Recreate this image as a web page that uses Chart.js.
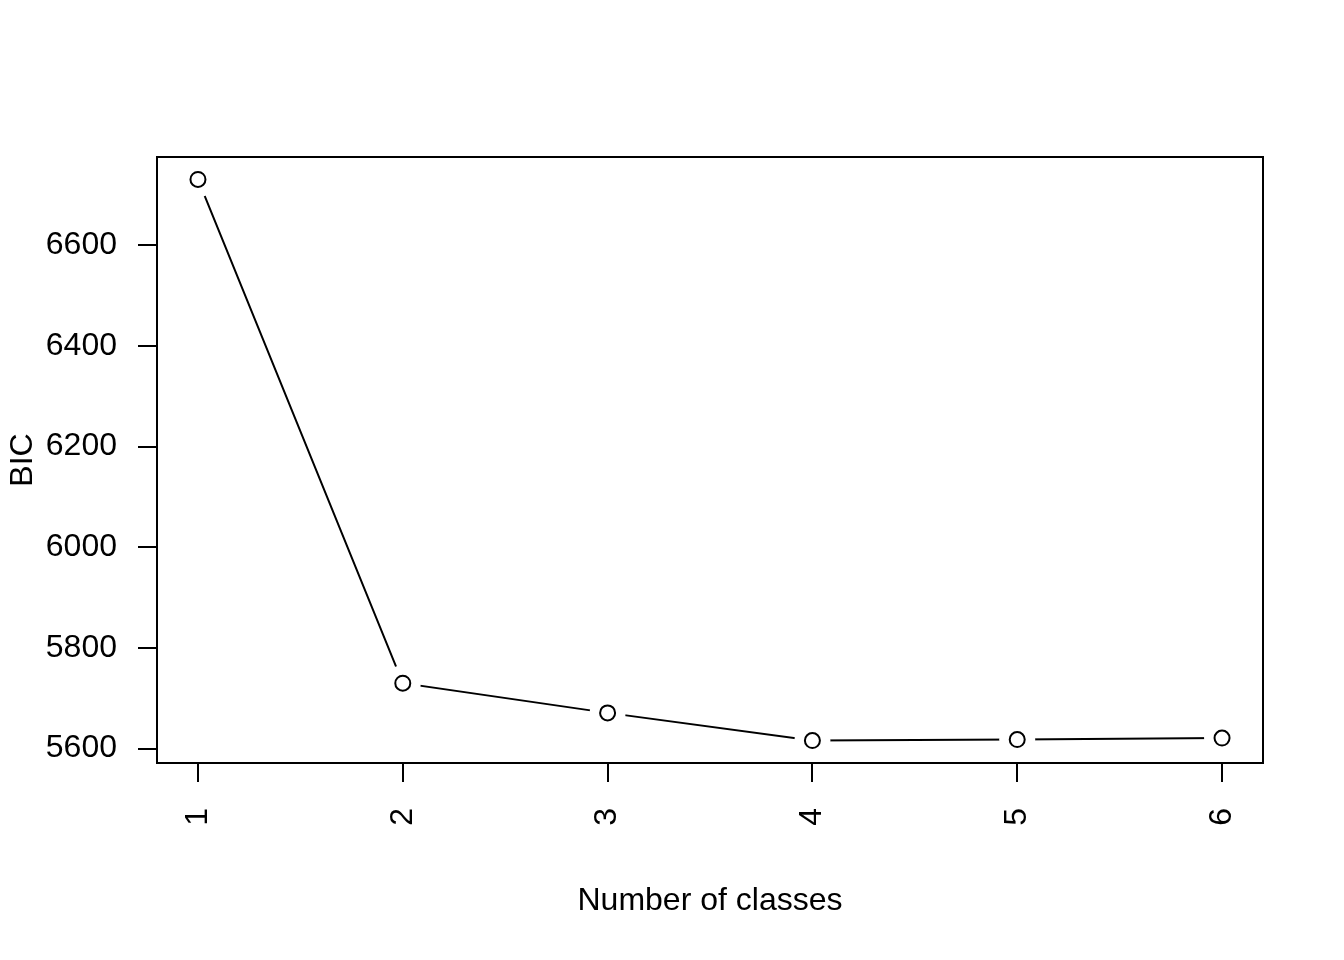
<!DOCTYPE html>
<html>
<head>
<meta charset="utf-8">
<script src="https://cdn.jsdelivr.net/npm/chart.js@4/dist/chart.umd.min.js"></script>
<style>
  body { margin: 0; background: #fff; }
  canvas { display: block; }
</style>
</head>
<body>
<canvas id="bicChart" width="1344" height="960"></canvas>
<script>
var classes = [1, 2, 3, 4, 5, 6]
var bic = [6731, 5730, 5671, 5616, 5618, 5621]
var yTicks = [5600, 5800, 6000, 6200, 6400, 6600]

var font = { family: "'Liberation Sans', Arial, sans-serif", size: 32 }

// R-style range: data range padded by 4% on each side
var yLo = Math.min.apply(null, bic), yHi = Math.max.apply(null, bic)
var yPad = (yHi - yLo) * 0.04
var xPad = (classes[classes.length - 1] - classes[0]) * 0.04

var boxPlugin = {
    id: 'box',
    afterDraw: function (chart) {
        var a = chart.chartArea, ctx = chart.ctx
        ctx.save()
        ctx.strokeStyle = '#000'
        ctx.lineWidth = 2
        ctx.strokeRect(a.left, a.top, a.right - a.left, a.bottom - a.top)
        ctx.restore()
    }
}

var points = classes.map(function (c, i) { return { x: c, y: bic[i] } })

new Chart(document.getElementById("bicChart"), {
    type: 'line',
    data: {
        datasets: [{
            // open circles on top
            data: points,
            showLine: false,
            pointRadius: 7.5,
            pointBorderWidth: 2,
            pointBorderColor: '#000',
            pointBackgroundColor: '#fff',
            order: 0
        }, {
            // line with white masks to leave gaps around points (type = "b")
            data: points,
            borderColor: '#000',
            borderWidth: 2,
            pointRadius: 18,
            pointBorderWidth: 0,
            pointBackgroundColor: '#fff',
            pointBorderColor: '#fff',
            fill: false,
            order: 1
        }]
    },
    options: {
        responsive: false,
        animation: false,
        devicePixelRatio: 1,
        layout: { padding: { left: 0, top: 157, right: 81, bottom: 0 } },
        plugins: { legend: { display: false }, tooltip: { enabled: false } },
        scales: {
            x: {
                type: 'linear',
                min: classes[0] - xPad,
                max: classes[classes.length - 1] + xPad,
                afterBuildTicks: function (scale) {
                    scale.ticks = classes.map(function (v) { return { value: v } })
                },
                afterFit: function (scale) { scale.height = 197 },
                grid: { drawOnChartArea: false, drawTicks: true, tickLength: 19, color: '#000', lineWidth: 2 },
                border: { display: false },
                ticks: {
                    autoSkip: false, minRotation: 90, maxRotation: 90, padding: 26, color: '#000', font: font,
                    callback: function (v) { return String(v) }
                },
                title: { display: true, text: 'Number of classes', color: '#000', font: font, padding: { top: 0, bottom: 40 } }
            },
            y: {
                type: 'linear',
                min: yLo - yPad,
                max: yHi + yPad,
                afterBuildTicks: function (scale) {
                    scale.ticks = yTicks.map(function (v) { return { value: v } })
                },
                afterFit: function (scale) { scale.width = 157 },
                grid: { drawOnChartArea: false, drawTicks: true, tickLength: 19, color: '#000', lineWidth: 2 },
                border: { display: false },
                ticks: {
                    autoSkip: false, padding: 21, color: '#000', font: font,
                    callback: function (v) { return String(v) }
                },
                title: { display: true, text: 'BIC', color: '#000', font: font, padding: { top: 4, bottom: 0 } }
            }
        }
    },
    plugins: [boxPlugin]
});
</script>
</body>
</html>
